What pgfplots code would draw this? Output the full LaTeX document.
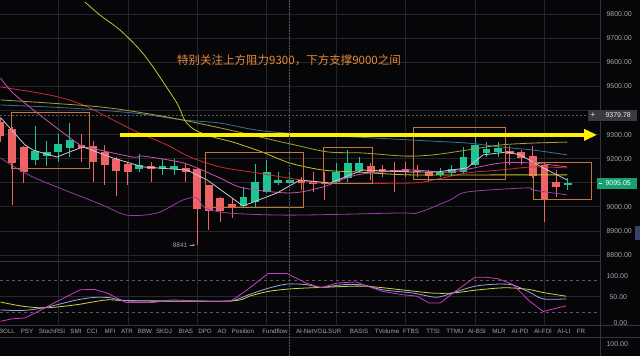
\documentclass[border=0pt]{standalone}
\usepackage{pgfplots}
\pgfplotsset{compat=1.18}
\usepackage{fontspec}
\setmainfont{Liberation Sans}
\newfontfamily\cjk{Noto Sans CJK SC}
\usetikzlibrary{arrows.meta}
\definecolor{bg}{RGB}{6,6,8}
\definecolor{gridc}{RGB}{36,36,42}
\definecolor{sepc}{RGB}{52,52,60}
\definecolor{txtc}{RGB}{165,165,170}
\definecolor{cred}{RGB}{240,98,104}
\definecolor{cgreen}{RGB}{28,196,150}
\definecolor{tagg}{RGB}{24,160,116}
\definecolor{tagd}{RGB}{58,58,64}
\definecolor{scrl}{RGB}{55,65,110}
\definecolor{mared}{RGB}{205,40,48}
\definecolor{mablue}{RGB}{58,112,150}
\definecolor{maolive}{RGB}{165,160,55}
\definecolor{arcy}{RGB}{195,195,45}
\definecolor{mawhite}{RGB}{200,200,210}
\definecolor{mamag}{RGB}{205,80,175}
\definecolor{mapur}{RGB}{150,60,165}
\definecolor{boxc}{RGB}{195,118,58}
\definecolor{annc}{RGB}{232,138,62}
\definecolor{kyel}{RGB}{210,210,70}
\definecolor{kblue}{RGB}{150,170,225}
\definecolor{kmag}{RGB}{205,60,195}
\definecolor{dashc}{RGB}{90,90,100}
\definecolor{lvl50}{RGB}{40,40,55}
\begin{document}
\begin{tikzpicture}[x=1pt,y=1pt]
\useasboundingbox (0,0) rectangle (640,356);
\fill[bg] (0,0) rectangle (640,356);

% ---------------- price pane ----------------
\begin{axis}[at={(0pt,94pt)}, anchor=south west, scale only axis,
  width=600pt, height=262pt,
  xmin=-0.043, xmax=51.8, ymin=8770.5, ymax=9857.7,
  axis line style={draw=none}, tick style={draw=none},
  xtick={5,11,...,47}, ytick={8800,8900,...,9800},
  xticklabels={}, yticklabels={},
  grid=major, grid style={gridc, line width=0.5pt}]

\addplot[dashc, dash pattern=on 2pt off 2pt, line width=0.5pt] coordinates {(-0.05,9379.78)(50.8,9379.78)};

% red wicks
\addplot[cred, line width=0.9pt, unbounded coords=jump] coordinates {
(0,9270)(0,9370)(0,nan) (1,9008)(1,9330)(1,nan) (2,9100)(2,9250)(2,nan)
(7,9187)(7,9300)(7,nan) (8,9104)(8,9271)(8,nan) (9,9092)(9,9258)(9,nan)
(10,9046)(10,9208)(10,nan) (11,9092)(11,9187)(11,nan) (13,9104)(13,9187)(13,nan)
(16,9104)(16,9183)(16,nan) (17,8841)(17,9160)(17,nan) (18,8904)(18,9090)(18,nan)
(19,8938)(19,9040)(19,nan) (20,8954)(20,9038)(20,nan) (26,9071)(26,9125)(26,nan)
(27,9062)(27,9142)(27,nan) (28,9029)(28,9146)(28,nan) (32,9112)(32,9183)(32,nan)
(33,9125)(33,9175)(33,nan) (34,9062)(34,9187)(34,nan) (35,9125)(35,9187)(35,nan)
(36,9125)(36,9175)(36,nan) (37,9104)(37,9154)(37,nan) (44,9175)(44,9250)(44,nan)
(45,9175)(45,9237)(45,nan) (46,9121)(46,9250)(46,nan) (47,8938)(47,9183)(47,nan)
(48,9042)(48,9154)};
% red bodies
\addplot[cred, line width=7.8pt, unbounded coords=jump] coordinates {
(0,9292)(0,9350)(0,nan) (1,9183)(1,9321)(1,nan) (2,9142)(2,9246)(2,nan)
(7,9245)(7,9254)(7,nan) (8,9187)(8,9250)(8,nan) (9,9171)(9,9225)(9,nan)
(10,9150)(10,9196)(10,nan) (11,9146)(11,9179)(11,nan) (13,9158)(13,9167)(13,nan)
(16,9146)(16,9162)(16,nan) (17,8992)(17,9158)(17,nan) (18,8983)(18,9088)(18,nan)
(19,8983)(19,9038)(19,nan) (20,8996)(20,9012)(20,nan) (26,9100)(26,9112)(26,nan)
(27,9096)(27,9108)(27,nan) (28,9096)(28,9104)(28,nan) (32,9146)(32,9167)(32,nan)
(33,9142)(33,9158)(33,nan) (34,9142)(34,9154)(34,nan) (35,9142)(35,9158)(35,nan)
(36,9142)(36,9154)(36,nan) (37,9129)(37,9146)(37,nan) (44,9217)(44,9233)(44,nan)
(45,9200)(45,9225)(45,nan) (46,9129)(46,9212)(46,nan) (47,9033)(47,9175)(47,nan)
(48,9083)(48,9104)};
% green wicks
\addplot[cgreen, line width=0.9pt, unbounded coords=jump] coordinates {
(3,9175)(3,9333)(3,nan) (4,9167)(4,9271)(4,nan) (5,9187)(5,9300)(5,nan)
(6,9208)(6,9346)(6,nan) (12,9146)(12,9217)(12,nan) (14,9133)(14,9196)(14,nan)
(15,9133)(15,9196)(15,nan) (21,9000)(21,9083)(21,nan) (22,9000)(22,9179)(22,nan)
(23,9058)(23,9192)(23,nan) (24,9088)(24,9146)(24,nan) (25,9092)(25,9150)(25,nan)
(29,9096)(29,9183)(29,nan) (30,9104)(30,9237)(30,nan) (31,9146)(31,9208)(31,nan)
(38,9125)(38,9162)(38,nan) (39,9129)(39,9175)(39,nan) (40,9138)(40,9246)(40,nan)
(41,9167)(41,9292)(41,nan) (42,9208)(42,9267)(42,nan) (43,9208)(43,9267)(43,nan)
(49,9071)(49,9121)};
% green bodies
\addplot[cgreen, line width=7.8pt, unbounded coords=jump] coordinates {
(3,9192)(3,9233)(3,nan) (4,9212)(4,9229)(4,nan) (5,9225)(5,9262)(5,nan)
(6,9242)(6,9275)(6,nan) (12,9158)(12,9171)(12,nan) (14,9158)(14,9167)(14,nan)
(15,9158)(15,9167)(15,nan) (21,9004)(21,9042)(21,nan) (22,9021)(22,9104)(22,nan)
(23,9062)(23,9146)(23,nan) (24,9100)(24,9112)(24,nan) (25,9100)(25,9112)(25,nan)
(29,9104)(29,9142)(29,nan) (30,9117)(30,9183)(30,nan) (31,9150)(31,9183)(31,nan)
(38,9133)(38,9146)(38,nan) (39,9138)(39,9158)(39,nan) (40,9142)(40,9208)(40,nan)
(41,9175)(41,9258)(41,nan) (42,9221)(42,9238)(42,nan) (43,9225)(43,9242)(43,nan)
(49,9092)(49,9097)};

% indicator lines
\addplot[mared, line width=0.8pt, smooth] coordinates {(0,9497)(4.28,9463)(7.13,9422)(11.45,9318)(14.39,9256)(16.38,9206)(18.97,9165)(22.17,9140)(25.89,9111)(27.87,9098)(35.39,9098)(37.38,9111)(40.32,9140)(43.17,9152)(46.02,9165)(48.96,9161)};
\addplot[mablue, line width=0.8pt, smooth] coordinates {(0,9422)(5.75,9410)(11.45,9389)(15.77,9360)(18.97,9347)(23.55,9310)(35.39,9277)(40.32,9264)(43.17,9248)(46.02,9235)(48.96,9215)};
\addplot[maolive, line width=0.8pt, smooth] coordinates {(0,9443)(8.6,9414)(14.39,9372)(18.97,9327)(22.43,9289)(25.45,9256)(28.31,9227)(31.25,9223)(34.96,9210)(37.38,9215)(40.32,9235)(43.17,9256)(46.02,9264)(48.96,9268)};
\addplot[arcy, line width=0.8pt, smooth] coordinates {(7.3,9849)(8.6,9795)(10.33,9733)(12.06,9650)(13.18,9580)(14.39,9493)(15.34,9422)(15.95,9356)(16.81,9318)(18.37,9289)(20.09,9268)(22.6,9227)(25.02,9181)(27.87,9152)(30.81,9144)(35.39,9132)(43.17,9132)(48.96,9132)};
\addplot[mamag, line width=0.8pt, smooth] coordinates {(0,9534)(1.08,9472)(3.41,9380)(6.87,9256)(7.74,9244)(11.45,9206)(12.32,9210)(15.51,9185)(16.98,9161)(18.97,9119)(20.96,9078)(25.02,9057)(27.87,9082)(30.81,9132)(35.39,9152)(38.85,9144)(43.17,9181)(46.02,9181)(48.96,9165)};
\addplot[mapur, line width=0.8pt, smooth] coordinates {(0,9202)(2.81,9123)(8.6,9011)(10.93,8965)(13.53,8974)(15.77,9028)(16.98,9036)(17.68,8995)(19.66,8974)(25.02,8965)(34.53,8974)(36,8974)(38.85,9028)(40.32,9061)(45.5,9078)(46.02,9069)(48.96,9049)};
\addplot[mawhite, line width=0.8pt] coordinates {(0,9370)(2.12,9256)(2.81,9235)(4.88,9206)(5.75,9223)(7.13,9248)(9.72,9202)(12.32,9165)(16.12,9152)(17.85,9111)(20.96,9003)(23.9,9057)(25.89,9111)(28.48,9098)(30.21,9132)(31.33,9152)(35.39,9144)(37.73,9144)(40.32,9161)(41.7,9215)(43.78,9227)(44.9,9215)(46.89,9161)(48.96,9111)};

% boxes
\addplot[boxc, line width=0.7pt] coordinates {(0.91,9393)(7.65,9393)(7.65,9161)(0.91,9161)(0.91,9393)};
\addplot[boxc, line width=0.7pt] coordinates {(17.68,9227)(26.14,9227)(26.14,8999)(17.68,8999)(17.68,9227)};
\addplot[boxc, line width=0.7pt] coordinates {(27.87,9248)(32.11,9248)(32.11,9098)(27.87,9098)(27.87,9248)};
\addplot[boxc, line width=0.7pt] coordinates {(35.65,9331)(43.6,9331)(43.6,9115)(35.65,9115)(35.65,9331)};
\addplot[boxc, line width=0.7pt] coordinates {(46.02,9185)(51.04,9185)(51.04,9032)(46.02,9032)(46.02,9185)};

% resistance arrow
\addplot[yellow, line width=4pt, -{Triangle[length=13pt,width=11pt]}] coordinates {(10.3,9298)(51.55,9298)};
\end{axis}

% ---------------- indicator pane ----------------
\begin{axis}[at={(0pt,31pt)}, anchor=south west, scale only axis,
  width=600pt, height=64pt,
  xmin=-0.043, xmax=51.8, ymin=-4.5, ymax=116.7,
  axis line style={draw=none}, tick style={draw=none},
  xtick={5,11,...,47}, ytick=\empty,
  xticklabels={},
  xmajorgrids, grid style={gridc, line width=0.5pt}]
\addplot[dashc, dash pattern=on 3pt off 3pt, line width=0.5pt] coordinates {(-0.05,80)(51.8,80)};
\addplot[lvl50, line width=0.5pt] coordinates {(-0.05,50)(51.8,50)};
\addplot[dashc, dash pattern=on 3pt off 3pt, line width=0.5pt] coordinates {(-0.05,20)(51.8,20)};
\addplot[kyel, line width=0.8pt, smooth] coordinates {(0,39)(1.94,31)(3.93,28)(6.61,34)(9.2,43)(11.54,41)(19.84,41)(21.48,50)(23.12,59)(25.11,64)(28.05,67)(31.42,69)(34.7,62)(37.29,56)(39.02,56)(41.27,62)(43.6,66)(45.59,63)(46.89,57)(48.88,50)};
\addplot[kblue, line width=0.8pt, smooth] coordinates {(0,24)(1.94,23)(3.93,29)(6.61,43)(8.25,48)(9.55,47)(10.85,42)(16.47,41)(19.84,41)(21.48,53)(23.12,65)(24.76,73)(26.4,72)(27.7,67)(29.69,72)(31.42,71)(33.06,62)(35.65,56)(37.64,48)(39.02,56)(41.01,69)(43,73)(44.3,71)(45.59,59)(46.89,45)(48.88,45)};
\addplot[kmag, line width=0.8pt] coordinates {(0,2.5)(0.95,7)(2.12,9)(3.24,21)(4.88,40)(6.87,62)(8.08,63)(9.2,56)(10.85,38)(13.18,38)(14.82,43)(17.16,41)(19.84,40)(21.13,59)(23.12,93)(24.76,93)(26.4,75)(27.7,66)(29.08,75)(30.73,77)(31.68,69)(33.06,59)(34.7,53)(36,50)(37.04,37)(37.99,37)(39.28,59)(41.01,86)(41.96,86)(43,83)(44.3,72)(45.59,43)(46.89,21)(48.88,32)};
\end{axis}

% pane separators and crosshair
\draw[sepc, line width=0.6pt] (0,95) -- (600,95);
\draw[sepc, line width=0.6pt] (0,31) -- (640,31);
\draw[sepc, line width=0.6pt] (0,19) -- (640,19);
\draw[sepc, line width=0.6pt] (600,0) -- (600,356);
\draw[dashc, dash pattern=on 1.5pt off 1.5pt, line width=0.6pt] (289,0) -- (289,356);

% annotation text
\node[annc, font=\cjk\fontsize{11.5}{13}\selectfont] at (289,296) {特别关注上方阻力9300，下方支撑9000之间};
\node[txtc, font=\fontsize{6.5}{7}\selectfont] at (180,111) {8841};
\draw[txtc, line width=0.4pt, -{Stealth[length=2pt,width=2pt]}] (189.5,111) -- (195,111);

% right price labels
\begin{scope}[font=\fontsize{7}{8}\selectfont, txtc]
\node[anchor=west] at (603,342) {9800.00};
\node[anchor=west] at (603,318.3) {9700.00};
\node[anchor=west] at (603,294) {9600.00};
\node[anchor=west] at (603,270) {9500.00};
\node[anchor=west] at (603,221.3) {9300.00};
\node[anchor=west] at (603,197.3) {9200.00};
\node[anchor=west] at (603,149.3) {9000.00};
\node[anchor=west] at (603,125.3) {8900.00};
\node[anchor=west] at (603,101) {8800.00};
\node[anchor=west] at (603,80) {100.00};
\node[anchor=west] at (606,59) {50.00};
\node[anchor=west] at (610,33) {0.00};
\node[anchor=west] at (603,12) {100.00};
\end{scope}
\fill[tagd] (588,235) rectangle (637,246);
\node[white!85!gray, font=\fontsize{7}{8}\selectfont, anchor=west] at (602,240.5) {9379.78};
\node[white!85!gray, font=\fontsize{8}{8}\selectfont] at (593,240.5) {+};
\fill[tagg] (597,167) rectangle (637,178);
\draw[white, line width=0.6pt] (599,172.5) -- (601.5,172.5);
\node[white, font=\fontsize{7}{8}\selectfont, anchor=west] at (602,172.5) {9095.05};
\fill[scrl] (635,116) rectangle (640,130);

% tab bar labels
\begin{scope}[font=\fontsize{6.2}{7}\selectfont, txtc]
\node at (7,25) {BOLL}; \node at (27,25) {PSY}; \node at (52,25) {StochRSI};
\node at (76,25) {SMI}; \node at (92,25) {CCI}; \node at (110,25) {MFI};
\node at (127,25) {ATR}; \node at (145,25) {BBW}; \node at (164,25) {SKDJ};
\node at (186,25) {BIAS}; \node at (205,25) {DPO}; \node at (222,25) {AO};
\node at (243,25) {Position}; \node at (275,25) {Fundflow}; \node at (311,25) {AI-NetVOL};
\node at (333,25) {LSUR}; \node at (359,25) {BASIS}; \node at (387,25) {TVolume};
\node at (411,25) {FTBS}; \node at (433,25) {TTSI}; \node at (455,25) {TTMU};
\node at (477,25) {AI-BSI}; \node at (499,25) {MLR}; \node at (520,25) {AI-PD};
\node at (543,25) {AI-FDI}; \node at (564,25) {AI-LI}; \node at (581,25) {FR};
\end{scope}
\end{tikzpicture}
\end{document}
